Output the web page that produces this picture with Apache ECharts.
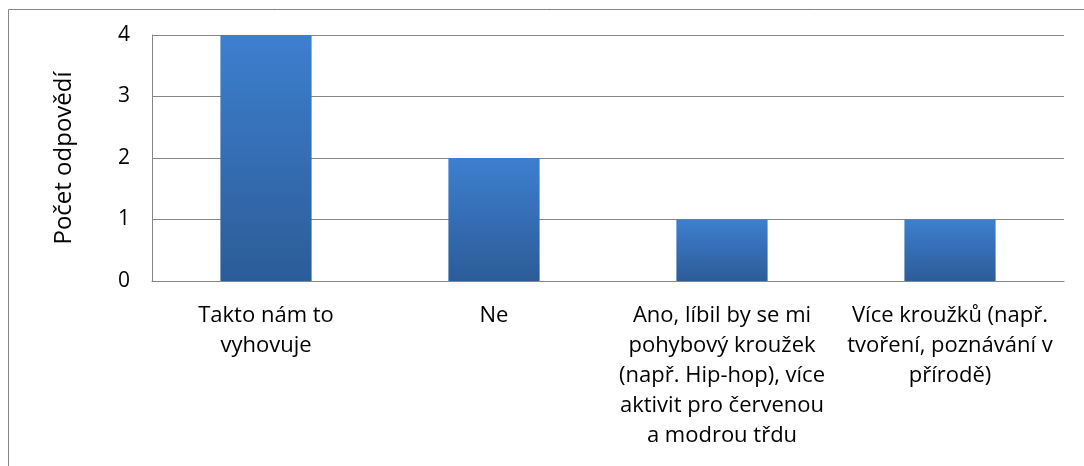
<!DOCTYPE html>
<html>
<head>
<meta charset="utf-8">
<script src="https://cdn.jsdelivr.net/npm/echarts@6/dist/echarts.min.js"></script>
<style>
  html, body { margin: 0; padding: 0; background: #fff; }
  #chart { width: 1084px; height: 466px; }
</style>
</head>
<body>
<div id="chart"></div>
<script>
// categories as wrapped in the original chart
const categories = [
  'Takto nám to\nvyhovuje',
  'Ne',
  'Ano, líbil by se mi\npohybový kroužek\n(např. Hip-hop), více\naktivit pro červenou\na modrou třdu',
  'Více kroužků (např.\ntvoření, poznávání v\npřírodě)'
]
const counts = [4, 2, 1, 1]
const yTicks = [0, 1, 2, 3, 4]

const font = '"Open Sans", "Noto Sans", sans-serif'

let chart = echarts.init(document.getElementById('chart'), null, { renderer: 'canvas' })
let option = {
  animation: false,
  graphic: [{
    type: 'rect',
    shape: { x: 8.5, y: 9.5, width: 1200, height: 600 },
    style: { fill: 'none', stroke: '#868686', lineWidth: 1 },
    silent: true
  }],
  grid: { left: 152, right: 20, top: 35, bottom: 185 },
  xAxis: {
    type: 'category',
    data: categories,
    axisLine: { lineStyle: { color: '#868686', width: 1 } },
    axisTick: { show: false },
    axisLabel: {
      interval: 0,
      margin: 20,
      color: '#000',
      fontFamily: font,
      fontSize: 22,
      lineHeight: 30
    }
  },
  yAxis: {
    type: 'value',
    min: yTicks[0],
    max: yTicks[yTicks.length - 1],
    interval: 1,
    name: 'Počet odpovědí',
    nameLocation: 'middle',
    nameRotate: 90,
    nameGap: 76,
    nameTextStyle: { color: '#000', fontFamily: font, fontSize: 24 },
    axisLine: { show: true, lineStyle: { color: '#868686', width: 1 } },
    axisTick: { show: false },
    splitLine: { lineStyle: { color: '#868686', width: 1 } },
    axisLabel: { margin: 22, color: '#000', fontFamily: font, fontSize: 21 }
  },
  series: [{
    type: 'bar',
    data: counts,
    barWidth: '40%',
    itemStyle: {
      color: new echarts.graphic.LinearGradient(0, 0, 0, 1, [
        { offset: 0, color: '#3d7fcf' },
        { offset: 1, color: '#2c5c98' }
      ])
    }
  }]
}
chart.setOption(option)
</script>
</body>
</html>
